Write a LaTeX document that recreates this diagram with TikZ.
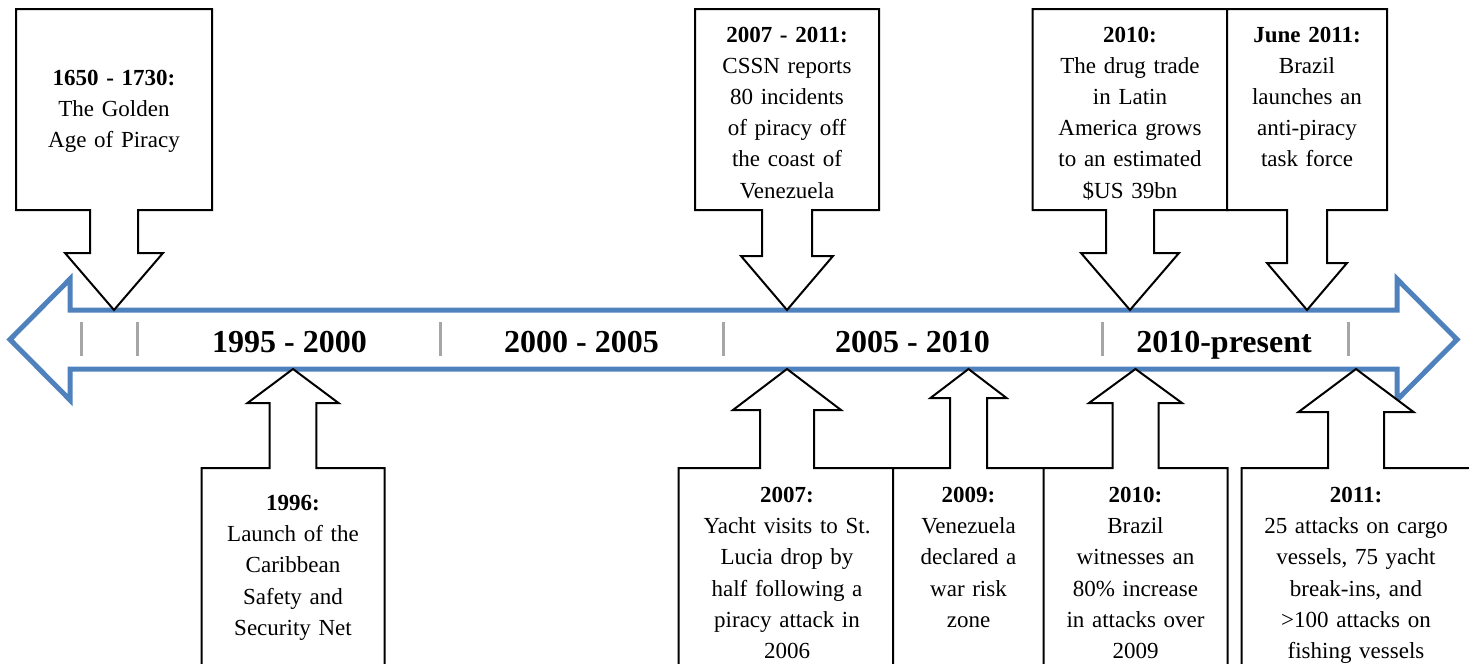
\documentclass[tikz,border=0pt]{standalone}
\usepackage{fontspec}
\setmainfont{Liberation Serif}
\usepackage{tikz}
\definecolor{lineblue}{HTML}{4F81BD}
\definecolor{tickgray}{HTML}{A6A6A6}

% callout pointing down onto the timeline: centre, box half, stem half, head half, head top
\newcommand{\calldown}[5]{%
  \draw[callout] (#1-#2,9) -- (#1+#2,9) -- (#1+#2,210) -- (#1+#3,210) -- (#1+#3,#5)
    -- (#1+#4,#5) -- (#1,310) -- (#1-#4,#5) -- (#1-#3,#5) -- (#1-#3,210)
    -- (#1-#2,210) -- cycle;}
% callout pointing up onto the timeline: centre, box half, stem half, head half, head base
\newcommand{\callup}[5]{%
  \draw[callout] (#1-#2,700) -- (#1-#2,468) -- (#1-#3,468) -- (#1-#3,#5) -- (#1-#4,#5)
    -- (#1,369) -- (#1+#4,#5) -- (#1+#3,#5) -- (#1+#3,468) -- (#1+#2,468)
    -- (#1+#2,700) -- cycle;}

\begin{document}
\begin{tikzpicture}[x=0.5pt,y=-0.5pt,
  callout/.style={draw=black,fill=white,line width=1pt},
  note/.style={anchor=base,text width=110pt,align=center,inner sep=0pt,
    font=\fontsize{11.5}{15.6}\selectfont},
  period/.style={anchor=base,inner sep=0pt,font=\fontsize{16}{19}\selectfont\bfseries},
  tick/.style={draw=tickgray,line width=1.5pt}]

\clip (0,0) rectangle (1469,664);

% the timeline
\draw[lineblue,line width=2.5pt] (10,339.5) -- (70,279) -- (70,310) -- (1397,310)
  -- (1397,279) -- (1457,339.5) -- (1397,400) -- (1397,369) -- (70,369)
  -- (70,400) -- cycle;

\foreach \x in {81,137,440,723,1102,1348}
  \draw[tick] (\x,322) -- (\x,356);

\node[period] (p95) at (289.5,352) {1995 - 2000};
\node[period] (p00) at (581.5,352) {2000 - 2005};
\node[period] (p05) at (912.5,352) {2005 - 2010};
\node[period] (p10) at (1224,352) {2010-present};

% events above
\calldown{114}{98}{24}{49}{253}
\calldown{787}{92}{25}{46}{256}
\calldown{1130}{97.5}{24}{49}{253}
\calldown{1307}{80}{20}{40}{263}

\node[note] (t1650) at (114,85) {\textbf{1650 - 1730:}\\The Golden\\Age of Piracy};
\node[note] (t0711) at (787,42) {\textbf{2007 - 2011:}\\CSSN reports\\80 incidents\\of piracy off\\the coast of\\Venezuela};
\node[note] (t2010a) at (1130,42) {\textbf{2010:}\\The drug trade\\in Latin\\America grows\\to an estimated\\\$US 39bn};
\node[note] (t2011a) at (1307,42) {\textbf{June 2011:}\\Brazil\\launches an\\anti-piracy\\task force};

% events below
\callup{293}{91.5}{23.3}{45.5}{403}
\callup{787}{108.5}{27}{54}{410}
\callup{968.5}{75.5}{18.5}{38}{398}
\callup{1135.5}{92}{23}{46.5}{403}
\callup{1356}{114.5}{28}{57.5}{412}

\node[note] (t1996) at (293,510.5) {\textbf{1996:}\\Launch of the\\Caribbean\\Safety and\\Security Net};
\node[note] (t2007) at (787,502.5) {\textbf{2007:}\\Yacht visits to St.\\Lucia drop by\\half following a\\piracy attack in\\2006};
\node[note] (t2009) at (968.5,502.5) {\textbf{2009:}\\Venezuela\\declared a\\war risk\\zone};
\node[note] (t2010b) at (1135.5,502.5) {\textbf{2010:}\\Brazil\\witnesses an\\80\% increase\\in attacks over\\2009};
\node[note] (t2011b) at (1356,502.5) {\textbf{2011:}\\25 attacks on cargo\\vessels, 75 yacht\\break-ins, and\\>100 attacks on\\fishing vessels};

\end{tikzpicture}
\end{document}
